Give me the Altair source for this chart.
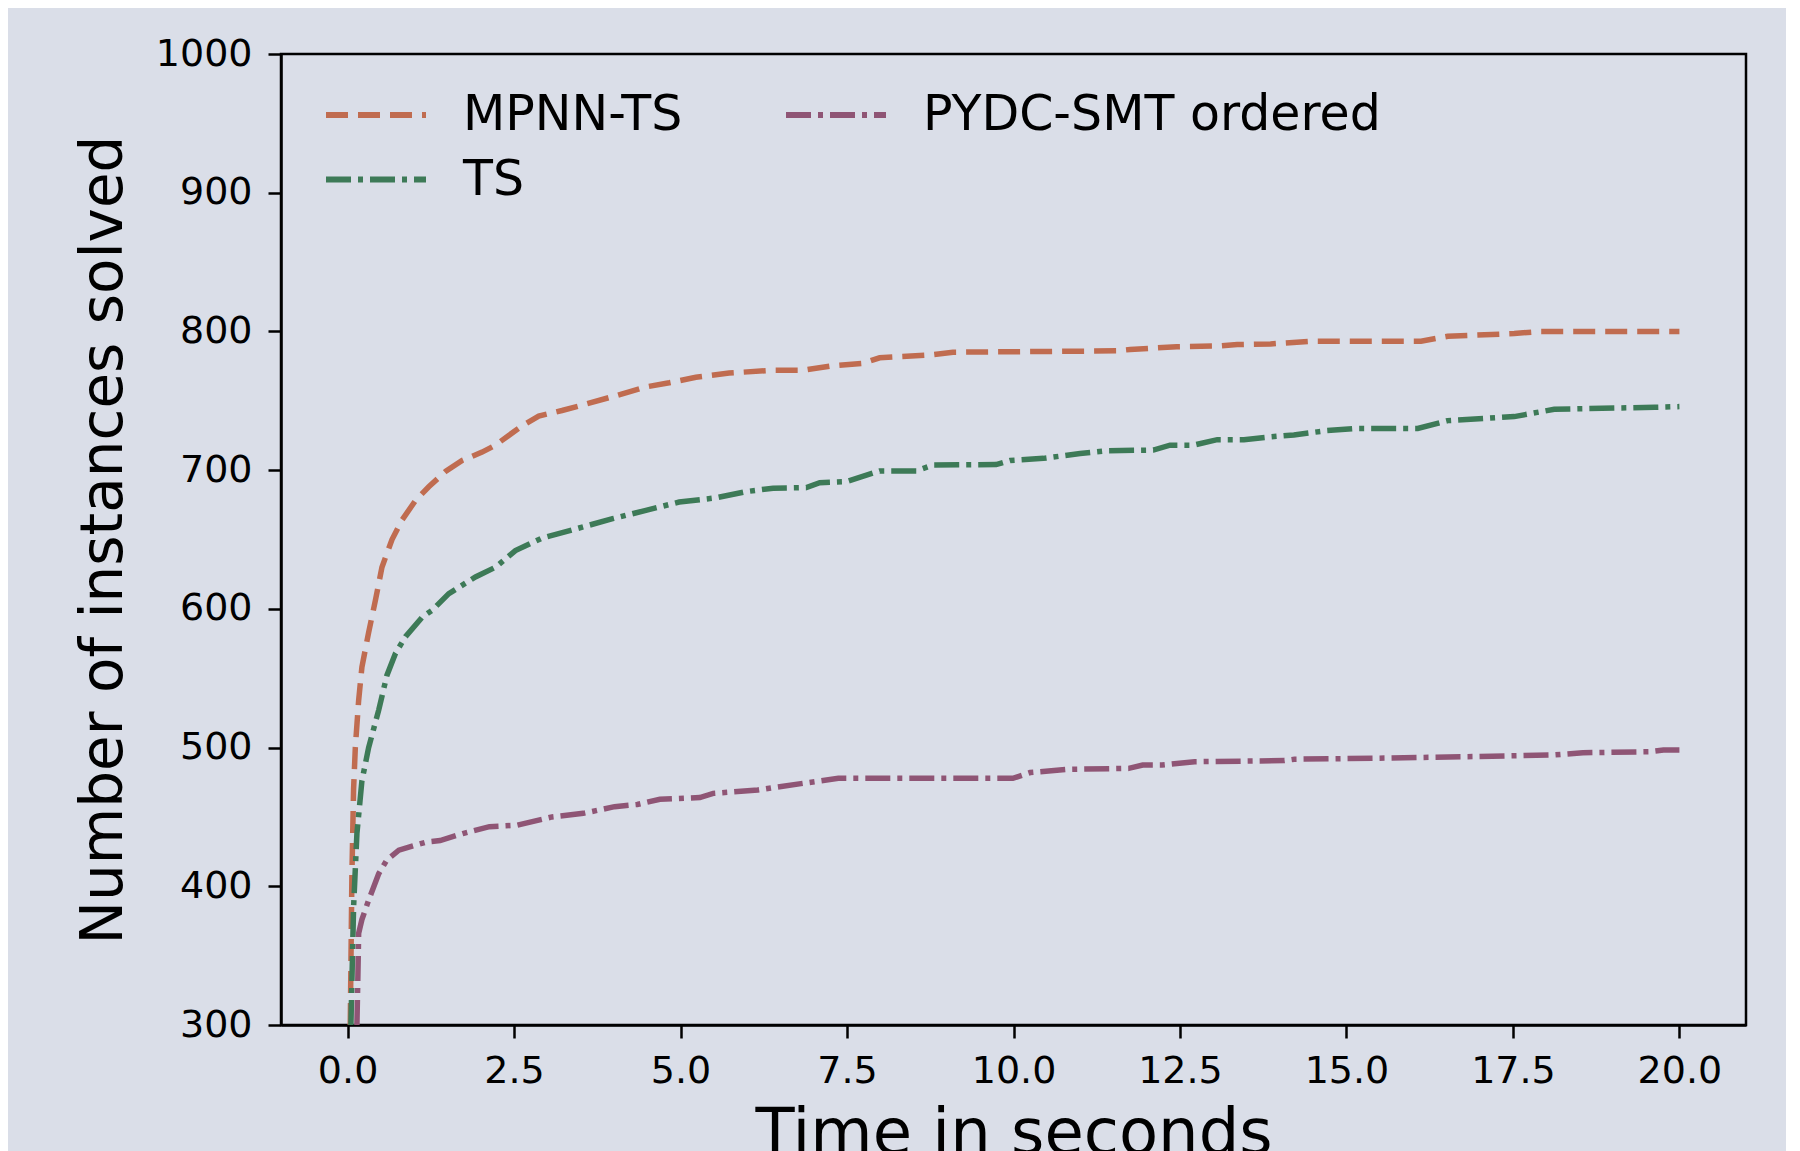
import altair as alt
import pandas as pd

series_names = ["MPNN-TS", "TS", "PYDC-SMT ordered"]

mpnn_t = [0.04, 0.065, 0.09, 0.116, 0.166, 0.215, 0.316, 0.417, 0.516, 0.667, 0.817, 1.018, 1.219, 1.47,
          1.72, 2.02, 2.22, 2.42, 2.62, 2.87, 3.22, 3.53, 3.98, 4.48, 4.83, 5.23, 5.73, 6.39, 6.84, 7.24,
          7.74, 7.99, 8.74, 9.09, 11.55, 11.75, 12.45, 13.1, 13.36, 13.86, 14.01, 14.51, 16.12, 16.52,
          17.52, 17.92, 20.0]
mpnn_v = [300, 409, 470, 500, 534, 558, 583, 606, 630, 650, 664, 678, 688, 699,
          707, 713, 718, 725, 732, 739, 743, 747, 753, 760, 763, 767, 770, 772, 772, 775,
          777, 781, 783, 785, 786, 787, 789, 789.5, 790.5, 791, 791.5, 793, 793, 796.5,
          798.5, 800, 800]

ts_t = [0.05, 0.09, 0.14, 0.215, 0.316, 0.467, 0.59, 0.72, 0.87, 1.12, 1.27, 1.52, 1.92, 2.22, 2.52,
        2.92, 3.38, 3.98, 4.48, 4.98, 5.53, 5.98, 6.39, 6.89, 7.09, 7.49, 7.99, 8.54, 8.79, 9.74, 9.95,
        10.45, 11.0, 11.4, 12.1, 12.35, 12.7, 13.06, 13.46, 13.86, 14.21, 14.71, 15.11, 16.07, 16.52,
        17.12, 17.52, 18.12, 19.63, 20.0]
ts_v = [300, 385, 438, 476, 500, 527, 552, 568, 580, 594, 599, 611, 623, 630, 642,
        651, 657, 665, 671, 677, 680, 684.5, 687, 687.4, 691, 691.7, 699.4, 699.4, 703.7, 704, 707,
        708.5, 712, 714, 714.5, 718, 718, 722, 722, 724, 725.4, 728.5, 730, 730, 735.7,
        737.4, 738.6, 743.9, 745.3, 745.8]

pydc_t = [0.14, 0.155, 0.166, 0.215, 0.316, 0.467, 0.59, 0.77, 0.97, 1.19, 1.39, 1.73, 2.13, 2.54, 3.07,
          3.54, 4.01, 4.35, 4.69, 5.29, 5.49, 6.16, 6.43, 7.1, 7.37, 9.99, 10.25, 10.81, 11.73, 11.94,
          12.23, 12.72, 14.07, 14.22, 15.43, 16.92, 18.12, 18.55, 19.54, 19.76, 20.0]
pydc_v = [300, 336, 366, 376, 390, 409, 419, 426, 429, 432, 433, 438, 443, 444, 450,
          452.6, 457.4, 459, 462.7, 464, 467, 469.4, 471.4, 476, 477.8, 477.8, 482, 484.3, 485, 487.4,
          487.4, 489.8, 490.6, 491.6, 492.3, 493.5, 494.7, 496.3, 497, 498.3, 498.3]

x_ticks = [0.0, 2.5, 5.0, 7.5, 10.0, 12.5, 15.0, 17.5, 20.0]
y_ticks = [300, 400, 500, 600, 700, 800, 900, 1000]

rows = []
for name, ts, vs in [("MPNN-TS", mpnn_t, mpnn_v), ("TS", ts_t, ts_v), ("PYDC-SMT ordered", pydc_t, pydc_v)]:
    for i, (t, v) in enumerate(zip(ts, vs)):
        rows.append({"series": name, "time": t, "solved": v, "idx": i})
df = pd.DataFrame(rows)

legend_order = ["MPNN-TS", "TS", "PYDC-SMT ordered"]
colors = ["#c06c50", "#3d7a57", "#8f5575"]
dashes = [[22, 10], [25, 7, 5, 7], [25, 7, 5, 7]]

FONT = "DejaVu Sans"


def make_legend():
    return alt.Legend(title=None, orient="none", legendX=67, legendY=33,
                      columns=2, columnPadding=91, rowPadding=11.5,
                      symbolType="M-2,0H2", symbolSize=2500, symbolStrokeWidth=6,
                      symbolFillColor="transparent",
                      labelFontSize=49, labelFont=FONT, labelColor="black",
                      labelOffset=59, padding=0, labelLimit=700)


chart = alt.Chart(df).mark_line(strokeWidth=5.5, strokeCap="butt", clip=True).encode(
    x=alt.X("time:Q",
            scale=alt.Scale(domain=[-1.0, 21.0], nice=False, zero=False),
            axis=alt.Axis(values=x_ticks, format=".1f", title="Time in seconds",
                          titleFontSize=64, titlePadding=12, labelPadding=14)),
    y=alt.Y("solved:Q",
            scale=alt.Scale(domain=[300, 1000], nice=False, zero=False),
            axis=alt.Axis(values=y_ticks, format="d", title="Number of instances solved",
                          titleFontSize=58, titlePadding=22, labelPadding=16)),
    color=alt.Color("series:N",
                    scale=alt.Scale(domain=legend_order, range=colors),
                    legend=make_legend()),
    strokeDash=alt.StrokeDash("series:N",
                              scale=alt.Scale(domain=legend_order, range=dashes),
                              legend=make_legend()),
    order="idx:Q",
    detail="series:N",
).properties(
    width=1465,
    height=971,
    autosize=alt.AutoSizeParams(type="none"),
    padding={"left": 273, "top": 46, "right": 40, "bottom": 140},
    background="#dadee8",
).configure_view(
    fill="#dadee8",
    stroke="black",
    strokeWidth=2.5,
).configure_axis(
    grid=False,
    domainColor="black",
    domainWidth=2.5,
    tickColor="black",
    tickWidth=2.5,
    tickSize=13,
    labelColor="black",
    labelFont=FONT,
    labelFontSize=38,
    titleFont=FONT,
    titleColor="black",
    titleFontWeight="normal",
)

chart.save("out.html", embed_options={"renderer": "svg", "actions": False})
